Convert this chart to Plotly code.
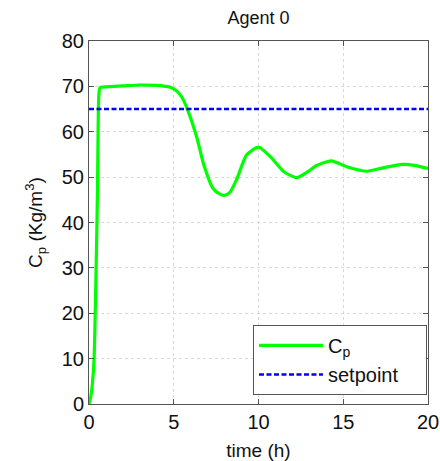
import plotly.graph_objects as go

# ---- data ----
time_h = [0, 0.1, 0.2, 0.3, 0.4, 0.5, 0.58, 0.65, 1.0, 2.0, 3.0, 4.0, 4.5, 4.8, 5.2, 5.5, 5.8,
          6.35, 6.75, 7.3, 7.7, 8.0, 8.3, 8.7, 9.3, 10.0, 10.7, 11.5, 12.25, 12.95, 13.4,
          14.3, 15.2, 16.4, 17.4, 18.5, 19.2, 20.0]
cp = [0, 1.5, 4.5, 10, 26, 47, 68, 69.7, 69.9, 70.1, 70.3, 70.2, 70.0, 69.8, 68.9, 67.5, 65.0,
      58.9, 53.0, 47.6, 46.3, 46.0, 46.6, 49.4, 54.9, 56.6, 54.5, 51.2, 49.9, 51.3, 52.5,
      53.6, 52.3, 51.3, 52.1, 52.8, 52.6, 51.9]
setpoint_t = [0, 20]
setpoint_v = [65, 65]
x_ticks = [0, 5, 10, 15, 20]
y_ticks = [0, 10, 20, 30, 40, 50, 60, 70, 80]

FONT = "Liberation Sans, Arial, sans-serif"
NB = "\u00a0"

fig = go.Figure()
fig.add_trace(go.Scatter(x=time_h, y=cp, mode="lines", name="C<sub>p</sub>",
                         line=dict(color="#00FF00", width=3.2, shape="spline", smoothing=0.6)))
fig.add_trace(go.Scatter(x=setpoint_t, y=setpoint_v, mode="lines", name="setpoint" + NB * 4,
                         line=dict(color="#0000FF", width=2.5, dash="5px,2.5px")))

axis_common = dict(showline=True, linecolor="#555555", linewidth=1, mirror="ticks",
                   ticks="inside", ticklen=5, tickcolor="#555555", automargin=False,
                   showgrid=True, gridcolor="#d9d9d9", griddash="dot", gridwidth=1,
                   zeroline=False, tickfont=dict(size=20, color="#111111", family=FONT))

fig.update_xaxes(range=[0, 20], tickvals=x_ticks,
                 title=dict(text="time (h)", font=dict(size=19, color="#111111", family=FONT),
                            standoff=12),
                 **axis_common)
fig.update_yaxes(range=[0, 80], tickvals=y_ticks,
                 title=dict(text="C<sub>p</sub> (Kg/m<sup>3</sup>)",
                            font=dict(size=19, color="#111111", family=FONT), standoff=14),
                 **axis_common)

fig.update_layout(
    width=440, height=461,
    margin=dict(l=89, r=12, t=41, b=57),
    paper_bgcolor="white", plot_bgcolor="white",
    title=dict(text="Agent 0", x=0.5875, xanchor="center", y=0.962, yanchor="middle",
               font=dict(size=18, color="#111111", family=FONT)),
    legend=dict(x=0.997, xanchor="right", y=0.025, yanchor="bottom",
                bordercolor="#555555", borderwidth=1, bgcolor="white",
                itemwidth=64, font=dict(size=20, color="#111111", family=FONT),
                tracegroupgap=0),
    showlegend=True,
)

fig.write_html("out.html")
